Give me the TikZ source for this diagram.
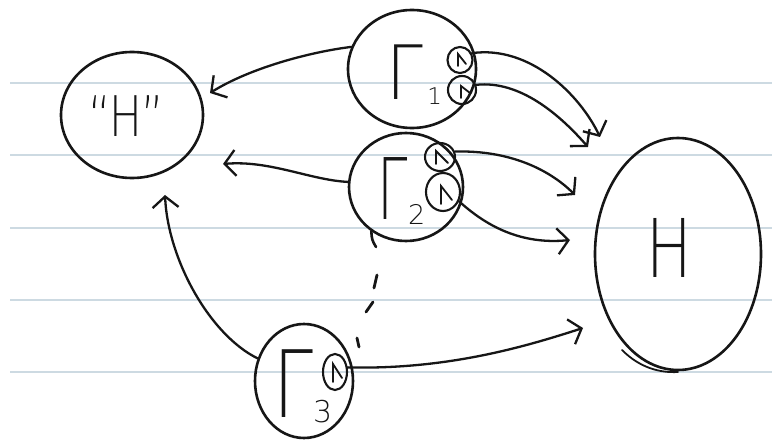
\documentclass[tikz,border=0pt]{standalone}
\usepackage{fontspec}
\usepackage{graphicx}
\newfontfamily\hand{DejaVu Sans ExtraLight}
\usetikzlibrary{shapes.geometric,arrows.meta}
\definecolor{ink}{RGB}{22,22,22}
\definecolor{rulecol}{RGB}{205,218,226}
\begin{document}
\begin{tikzpicture}[x=1pt,y=-1pt,
  ell/.style={draw=ink, line width=2.6pt, ellipse, inner sep=0pt},
  sml/.style={draw=ink, line width=2.1pt, ellipse, inner sep=0pt},
  arr/.style={draw=ink, line width=2.3pt, line cap=round, -{Straight Barb[length=11pt,width=26pt]}},
  lbl/.style={text=ink, inner sep=0pt, anchor=base west},
  tick/.style={draw=ink, line width=1.8pt, line cap=round},
  stroke/.style={draw=ink, line width=2.6pt, line cap=round},
  dashmark/.style={draw=ink, line width=2.8pt, line cap=round}]
\useasboundingbox (0,0) rectangle (772,441);
\fill[white] (0,0) rectangle (772,441);
\foreach \yy in {83,155,228,300,372} \draw[rulecol, line width=1.6pt] (10,\yy) -- (772,\yy);

% main ellipses
\node[ell, minimum width=142pt, minimum height=126pt] (hq) at (132,115) {};
\node[ell, minimum width=128pt, minimum height=118pt] (g1) at (412,69) {};
\node[ell, minimum width=114pt, minimum height=108pt] (g2) at (406,187) {};
\node[ell, minimum width=98pt, minimum height=114pt] (g3) at (304,381) {};
\node[ell, minimum width=166pt, minimum height=232pt] (h) at (678,254) {};

% hand-drawn overshoots of the outlines
\draw[stroke] (g2.232) .. controls (372,240) .. (376,247);
\draw[stroke, line width=1.8pt] (622,350) .. controls (640,368) and (660,373) .. (678,372);

% small circles
\node[sml, minimum width=25pt, minimum height=26pt] (s1a) at (460,60) {};
\node[sml, minimum width=28pt, minimum height=28pt] (s1b) at (462,90) {};
\node[sml, minimum width=30pt, minimum height=28pt] (s2a) at (440,157) {};
\node[sml, minimum width=34pt, minimum height=38pt] (s2b) at (443,192) {};
\node[sml, minimum width=24pt, minimum height=36pt] (s3) at (335,372) {};

% marks inside the small circles
\draw[tick, shift={(s1a.center)}] (-2,6) -- (-2,-6) -- (6,4);
\draw[tick, shift={(s1b.center)}] (-1,8) -- (-1,-4) -- (8,3);
\draw[tick, shift={(s2a.center)}] (-4,7) -- (-4,-6) -- (8,6);
\draw[tick, shift={(s2b.center)}] (-2,12) -- (-2,-6) -- (9,8);
\draw[tick, shift={(s3.center)}] (-2,10) -- (-2,-8) -- (7,6);

% labels
\node[lbl, anchor=base, font=\hand\fontsize{56}{56}\selectfont] (hql) at (126,137) {\scalebox{0.78}[1]{“H”}};
\node[lbl, anchor=base, font=\hand\fontsize{81}{81}\selectfont] (hl) at (669,277) {\scalebox{0.75}[1]{H}};
\node[lbl, font=\hand\fontsize{75}{75}\selectfont] (g1l) at (386.5,100)
  {\scalebox{0.88}[1]{Γ}\hspace{4pt}\raisebox{-5pt}{\fontsize{23}{23}\selectfont 1}};
\node[lbl, font=\hand\fontsize{85}{85}\selectfont] (g2l) at (377.7,220)
  {\scalebox{0.64}[1]{Γ}\raisebox{-5pt}{\fontsize{27}{27}\selectfont 2}};
\node[lbl, font=\hand\fontsize{93}{93}\selectfont] (g3l) at (273,417)
  {\scalebox{0.77}[1]{Γ}\raisebox{-5pt}{\fontsize{30}{30}\selectfont 3}};

% arrow tips
\coordinate (t1) at (210,93);
\coordinate (t2) at (223,164);
\coordinate (t3) at (165,195);
\coordinate (t4) at (600,137);
\coordinate (t5) at (588,147);
\coordinate (t6) at (575,195);
\coordinate (t7) at (570,240);
\coordinate (t8) at (583,328);

\draw[arr] (g1.160) .. controls (310,52) and (250,68) .. (t1);
\draw[arr] (g2.175) .. controls (310,180) and (270,160) .. (t2);
\draw[arr] (g3.154) .. controls (210,335) and (168,260) .. (t3);
\draw[arr] (s1a.30) .. controls (530,45) and (580,95) .. (t4);
\draw[arr] (s1b.20) .. controls (520,80) and (560,115) .. (t5);
\draw[arr] (s2a.20) .. controls (510,150) and (550,170) .. (t6);
\draw[arr] (s2b.-30) .. controls (485,225) and (520,245) .. (t7);
\draw[arr] (s3.20) .. controls (450,370) and (530,345) .. (t8);

% dotted link between Gamma2 and Gamma3
\draw[dashmark] (377,275) -- (374,288);
\draw[dashmark] (373,302) -- (366,312);
\draw[dashmark] (357,338) -- (359,347);
\end{tikzpicture}
\end{document}
